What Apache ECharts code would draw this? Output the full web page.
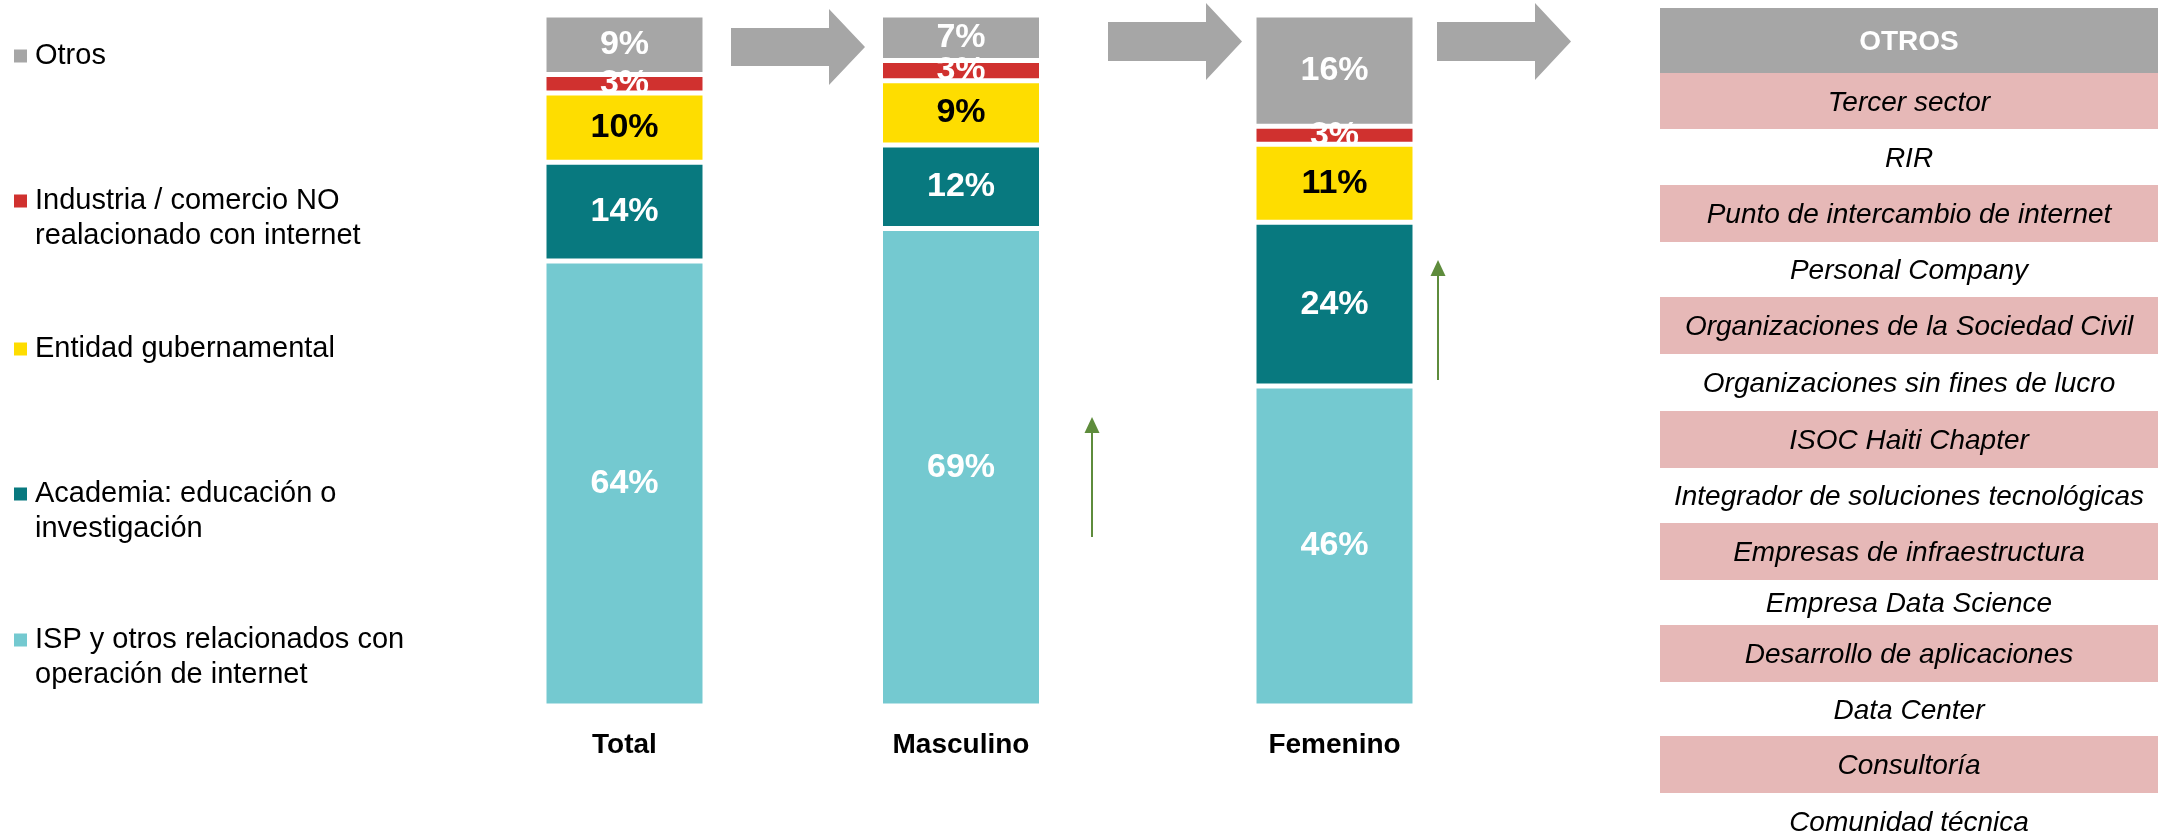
<!DOCTYPE html>
<html><head><meta charset="utf-8">
<script src="https://cdn.jsdelivr.net/npm/echarts@6/dist/echarts.min.js"></script>
<style>html,body{margin:0;padding:0;background:#fff}#c{width:2164px;height:840px}</style>
</head><body><div id="c"></div>
<script>
// ---- data ----
const categories = ['Total', 'Masculino', 'Femenino'];
const seriesNames = [
  'ISP y otros relacionados con operación de internet',
  'Academia: educación o investigación',
  'Entidad gubernamental',
  'Industria / comercio NO realacionado con internet',
  'Otros'
];
const legendLabels = [
  'ISP y otros relacionados con\noperación de internet',
  'Academia: educación o\ninvestigación',
  'Entidad gubernamental',
  'Industria / comercio NO\nrealacionado con internet',
  'Otros'
];
const ispValues       = [64.4, 69.1, 46.3];
const academiaValues  = [14.3, 12.1, 23.7];
const gobiernoValues  = [10.0, 9.3, 11.3];
const industriaValues = [2.7, 2.9, 2.6];
const otrosValues     = [8.6, 6.6, 16.1];
const otrosTitle = 'OTROS';
const otrosItems = [
  'Tercer sector', 'RIR', 'Punto de intercambio de internet', 'Personal Company',
  'Organizaciones de la Sociedad Civil', 'Organizaciones sin fines de lucro',
  'ISOC Haiti Chapter', 'Integrador de soluciones tecnológicas',
  'Empresas de infraestructura', 'Empresa Data Science', 'Desarrollo de aplicaciones',
  'Data Center', 'Consultoría', 'Comunidad técnica'
];

// ---- style / layout ----
const allValues = [ispValues, academiaValues, gobiernoValues, industriaValues, otrosValues];
const colors = ['#74C9D0', '#08797F', '#FEDD00', '#D0312F', '#A6A6A6'];
const labelColors = ['#fff', '#fff', '#000', '#fff', '#fff'];
const FONT = '"Liberation Sans", Arial, sans-serif';
const barCenters = [624.5, 961, 1334.5];
const gridW = 200;
const legendTops = [622.5, 476.5, 331.5, 183.5, 38.5];
const rowTops = [73, 129, 185, 242, 297, 354, 411, 468, 523, 580, 625, 682, 736, 793, 850];

const chart = echarts.init(document.getElementById('c'), null, {renderer: 'canvas'});

const grids = [], xAxes = [], yAxes = [], series = [];
categories.forEach((cat, g) => {
  grids.push({left: barCenters[g] - gridW / 2, width: gridW, top: 15, bottom: 134, containLabel: false});
  xAxes.push({
    type: 'category', gridIndex: g, data: [cat],
    axisLine: {show: false}, axisTick: {show: false},
    axisLabel: {color: '#000', fontSize: 28, fontWeight: 'bold', fontFamily: FONT, margin: 25}
  });
  yAxes.push({type: 'value', gridIndex: g, min: 0, max: 100, show: false, splitLine: {show: false}});
  seriesNames.forEach((name, s) => {
    series.push({
      type: 'bar', name: name, xAxisIndex: g, yAxisIndex: g, stack: 'st' + g,
      data: [allValues[s][g]], barWidth: 161,
      itemStyle: {color: colors[s], borderColor: '#fff', borderWidth: 2.5},
      label: {
        show: true, position: 'inside',
        formatter: p => Math.round(p.value) + '%',
        color: labelColors[s], fontSize: 34, fontWeight: 'bold', fontFamily: FONT
      },
      emphasis: {disabled: true}
    });
  });
});

// legends, one per series so they can be spread down the left column
const twoLineIcon = 'path://M0,0L13,0L13,13L0,13Z M0,47.99L0.01,47.99L0.01,48L0,48Z';
const legends = seriesNames.map((name, s) => {
  const twoLine = legendLabels[s].indexOf('\n') >= 0;
  return {
    data: [name], left: 14, top: legendTops[s], padding: 0, orient: 'vertical',
    icon: twoLine ? twoLineIcon : 'rect',
    itemWidth: 13, itemHeight: twoLine ? 48 : 13,
    itemStyle: {borderWidth: 0},
    selectedMode: false,
    formatter: () => legendLabels[s],
    textStyle: {fontSize: 29, lineHeight: 35, color: '#000', fontFamily: FONT, padding: [0, 0, 0, 3]}
  };
});

// graphics: gray block arrows, green arrows, OTROS table
const graphics = [];
function blockArrow(x0, x1, x2, yc, shaftHalf, headHalf) {
  graphics.push({type: 'polygon', silent: true, shape: {points: [
    [x0, yc - shaftHalf], [x1, yc - shaftHalf], [x1, yc - headHalf], [x2, yc],
    [x1, yc + headHalf], [x1, yc + shaftHalf], [x0, yc + shaftHalf]
  ]}, style: {fill: '#A6A6A6'}});
}
blockArrow(731, 829, 865, 47, 19, 38);
blockArrow(1108, 1206, 1242, 41.5, 19.5, 38.5);
blockArrow(1437, 1535, 1571, 41.5, 19.5, 38.5);

function greenArrow(x, yTop, yBottom) {
  graphics.push({type: 'line', silent: true, shape: {x1: x, y1: yBottom, x2: x, y2: yTop + 14},
    style: {stroke: '#5E8C3C', lineWidth: 2}});
  graphics.push({type: 'polygon', silent: true, shape: {points: [[x - 7.5, yTop + 16], [x + 7.5, yTop + 16], [x, yTop]]},
    style: {fill: '#5E8C3C'}});
}
greenArrow(1092, 417, 537);
greenArrow(1438, 260, 380);

const tableLeft = 1660, tableW = 498;
graphics.push({type: 'rect', silent: true, shape: {x: tableLeft, y: 8, width: tableW, height: 65}, style: {fill: '#A6A6A6'}});
graphics.push({type: 'text', silent: true, x: tableLeft + tableW / 2, y: 42,
  style: {text: otrosTitle, fill: '#fff', font: 'bold 28px ' + FONT, align: 'center', verticalAlign: 'middle'}});
otrosItems.forEach((item, i) => {
  const y0 = rowTops[i], h = rowTops[i + 1] - rowTops[i];
  if (i % 2 === 0) {
    graphics.push({type: 'rect', silent: true, shape: {x: tableLeft, y: y0, width: tableW, height: h}, style: {fill: '#E6B8B7'}});
  }
  graphics.push({type: 'text', silent: true, x: tableLeft + tableW / 2, y: y0 + h / 2 + 2,
    style: {text: item, fill: '#000', font: 'italic 28px ' + FONT, align: 'center', verticalAlign: 'middle'}});
});

chart.setOption({
  animation: false,
  backgroundColor: '#fff',
  grid: grids, xAxis: xAxes, yAxis: yAxes, series: series,
  legend: legends,
  graphic: graphics
});
</script></body></html>
